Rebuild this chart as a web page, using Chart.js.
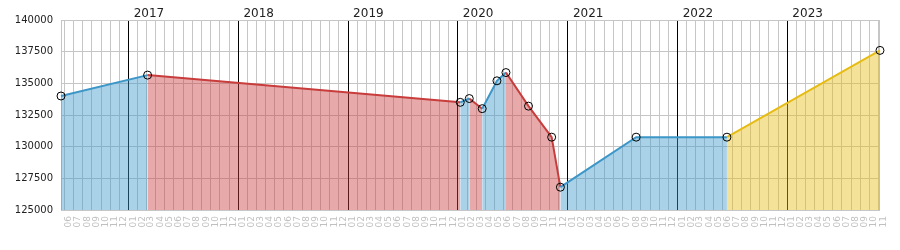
<!DOCTYPE html>
<html>
<head>
<meta charset="utf-8">
<script src="https://cdn.jsdelivr.net/npm/chart.js@4.4.0/dist/chart.umd.min.js"></script>
<style>
  html, body { margin: 0; padding: 0; background: #fff; }
  #wrap { width: 900px; height: 250px; }
</style>
</head>
<body>
<div id="wrap"><canvas id="myChart"></canvas></div>
<script>
// values
const dates = ["2016-05-21", "2017-03-05", "2020-01-09", "2020-02-08", "2020-03-22", "2020-05-10",
  "2020-06-09", "2020-08-23", "2020-11-08", "2020-12-07", "2021-08-16", "2022-06-14", "2023-11-05"];
const values = [134000, 135650, 133500, 133800, 133000, 135200,
  135850, 133200, 130750, 126800, 130750, 130750, 137600];
const forecastFrom = "2022-06-14";

const yearLabels = ["2017", "2018", "2019", "2020", "2021", "2022", "2023"];
const firstMonth = "2016-06";
const lastMonth = "2023-11";
const yTicks = [125000, 127500, 130000, 132500, 135000, 137500, 140000];

const gridColor = "#c6c6c6";
const blue = [60, 150, 200];
const red = [200, 60, 60];
const yellow = [230, 188, 20];

// day number from a date string
const day = (s) => {
  const p = s.split("-").map(Number);
  return Date.UTC(p[0], p[1] - 1, p[2] || 1) / 86400000;
};

// month ticks sit in the middle of each month, labels are the month number
const monthTicks = [];
const monthLabels = [];
{
  let [y, m] = firstMonth.split("-").map(Number);
  const [ly, lm] = lastMonth.split("-").map(Number);
  while (y < ly || (y === ly && m <= lm)) {
    const start = Date.UTC(y, m - 1, 1) / 86400000;
    const end = Date.UTC(y, m, 1) / 86400000;
    monthTicks.push((start + end) / 2);
    monthLabels.push(String(m).padStart(2, "0"));
    m++;
    if (m > 12) { m = 1; y++; }
  }
}
const yearTicks = yearLabels.map((y) => day(y + "-01-01"));

const xMin = day(dates[0]);
const xMax = day(dates[dates.length - 1]);

const segColor = (ctx, alpha) => {
  const i = ctx.p0DataIndex;
  let c = blue;
  if (ctx.p0.parsed.x >= day(forecastFrom)) c = yellow;
  else if (values[i + 1] < values[i]) c = red;
  return `rgba(${c[0]}, ${c[1]}, ${c[2]}, ${alpha})`;
};

Chart.defaults.font.family = "DejaVu Sans";

const ctx = document.getElementById("myChart");

new Chart(ctx, {
  type: "line",
  data: {
    datasets: [
      {
        data: dates.map((d, i) => ({ x: day(d), y: values[i] })),
        borderWidth: 2,
        fill: "start",
        tension: 0,
        clip: false,
        pointRadius: 4,
        pointBorderWidth: 1,
        pointBorderColor: "#000",
        pointBackgroundColor: "rgba(0,0,0,0)",
        segment: {
          borderColor: (c) => segColor(c, 1),
          backgroundColor: (c) => segColor(c, 0.44),
        },
      },
    ],
  },
  options: {
    responsive: true,
    maintainAspectRatio: false,
    animation: false,
    layout: { padding: { right: 20 } },
    plugins: {
      legend: { display: false },
      tooltip: { enabled: false },
    },
    scales: {
      x: {
        type: "linear",
        position: "bottom",
        min: xMin,
        max: xMax,
        afterBuildTicks: (s) => { s.ticks = monthTicks.map((v) => ({ value: v })); },
        afterFit: (s) => { s.height = 40; },
        grid: { color: gridColor, offset: true, drawTicks: false },
        border: { color: gridColor },
        ticks: {
          autoSkip: false,
          minRotation: 90,
          maxRotation: 90,
          padding: 6,
          color: "#c0c0c0",
          font: { size: 9 },
          callback: (v, i) => monthLabels[i],
        },
      },
      x2: {
        type: "linear",
        position: "top",
        min: xMin,
        max: xMax,
        afterBuildTicks: (s) => { s.ticks = yearTicks.map((v) => ({ value: v })); },
        afterFit: (s) => { s.height = 20; },
        grid: { color: "#000", drawTicks: false, z: -0.5 },
        border: { color: gridColor },
        ticks: {
          autoSkip: false,
          maxRotation: 0,
          align: "start",
          labelOffset: 5,
          padding: -1,
          color: "#222",
          font: { size: 12 },
          callback: (v, i) => yearLabels[i],
        },
      },
      y: {
        min: yTicks[0],
        max: yTicks[yTicks.length - 1],
        afterBuildTicks: (s) => { s.ticks = yTicks.map((v) => ({ value: v })); },
        afterFit: (s) => { s.width = 61; },
        grid: { color: gridColor, drawTicks: false },
        border: { color: gridColor },
        ticks: {
          padding: 8,
          color: "#222",
          font: { size: 10 },
          callback: (v) => String(v),
        },
      },
      y2: {
        position: "right",
        ticks: { display: false },
        grid: { drawOnChartArea: false, drawTicks: false },
        border: { color: gridColor },
        afterFit: (s) => { s.width = 0; },
      },
    },
  },
});
</script>
</body>
</html>
